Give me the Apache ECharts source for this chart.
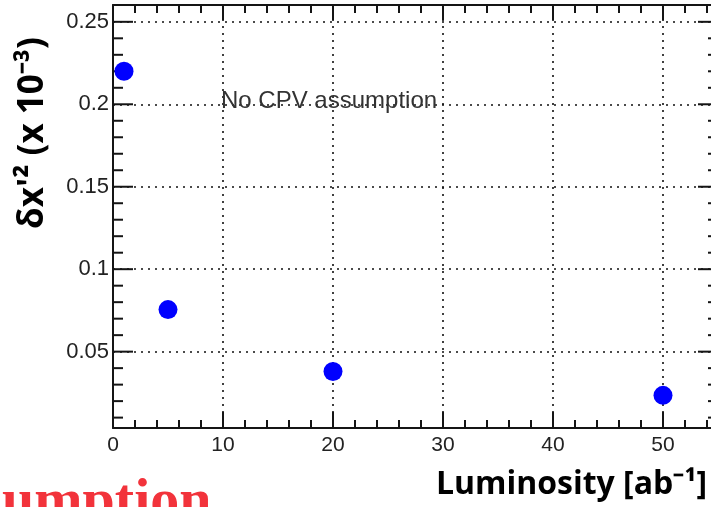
<!DOCTYPE html>
<html>
<head>
<meta charset="utf-8">
<script src="https://cdn.jsdelivr.net/npm/echarts@6/dist/echarts.min.js"></script>
<style>
html,body{margin:0;padding:0;background:#fff;}
#chart{width:711px;height:507px;}
</style>
</head>
<body>
<div id="chart"></div>
<script>
// ---- data ----
const luminosity = [1, 5, 20, 50];
const deltaX2 = [0.22, 0.0755, 0.038, 0.0235];
const xTickLabels = [0, 10, 20, 30, 40, 50];
const yTickLabels = [0.05, 0.1, 0.15, 0.2, 0.25];
const xMinorTicks = [2, 4, 6, 8, 12, 14, 16, 18, 22, 24, 26, 28, 32, 34, 36, 38, 42, 44, 46, 48, 52, 54];
const yMinorTicks = [0.01, 0.02, 0.03, 0.04, 0.06, 0.07, 0.08, 0.09, 0.11, 0.12, 0.13, 0.14,
                     0.16, 0.17, 0.18, 0.19, 0.21, 0.22, 0.23, 0.24];
const xRange = [0, 55];
const yRange = [0.0037, 0.2602];
const annotation = 'No CPV assumption';
const xTitle = 'Luminosity [ab\u207B\u00B9]';
const yTitle = "\u03B4x'\u00B2 (x 10\u207B\u00B3)";

const chart = echarts.init(document.getElementById('chart'));
const AX = '#151515';
const near = (v, arr) => arr.some(t => Math.abs(t - v) < 1e-6);

function xAx(pos, major) {
  return {
    type: 'value', position: pos, min: xRange[0], max: xRange[1], interval: major ? 10 : 2,
    axisLine: {show: major, onZero: false, lineStyle: {color: AX, width: 2}},
    axisTick: {show: false},
    axisLabel: {show: major && pos === 'bottom', margin: 7, fontSize: 21, color: '#222', fontFamily: 'Liberation Sans',
      formatter: v => near(v, xTickLabels) ? String(v) : ''},
    splitLine: {show: major && pos === 'bottom', lineStyle: {type: [2, 5], color: '#111', width: 1.6}}
  };
}
function yAx(pos, major) {
  const iv = major ? 0.05 : 0.01;
  const a = {
    type: 'value', position: pos, min: yRange[0], max: yRange[1], minInterval: iv, maxInterval: iv,
    axisLine: {show: major, onZero: false, lineStyle: {color: AX, width: 2}},
    axisTick: {show: false},
    axisLabel: {show: major && pos === 'left', margin: 4, fontSize: 22, color: '#222', fontFamily: 'Liberation Sans',
      formatter: v => near(v, yTickLabels) ? String(+v.toFixed(2)) : ''},
    splitLine: {show: major && pos === 'left', lineStyle: {type: [2, 5], color: '#111', width: 1.6}}
  };
  if (pos === 'left' && !major) {
    a.name = yTitle;
    a.nameLocation = 'middle';
    a.nameRotate = 90;
    a.nameGap = 62;
    a.nameTextStyle = {fontFamily: 'Open Sans', fontWeight: 'bold', fontSize: 35, color: '#000',
      lineHeight: 36, padding: [0, 0, 0, 167]};
  }
  return a;
}

// tick marks on all four sides (kind: 0 x-major, 1 x-minor, 2 y-major, 3 y-minor)
const tickData = [].concat(
  xTickLabels.map(v => [v, yRange[0], 0]),
  xMinorTicks.map(v => [v, yRange[0], 1]),
  yTickLabels.map(v => [xRange[0], v, 2]),
  yMinorTicks.map(v => [xRange[0], v, 3])
);

function renderTick(params, api) {
  const a = api.value(0), b = api.value(1), k = api.value(2);
  const st = {stroke: AX, lineWidth: 2};
  if (k < 2) {
    const p0 = api.coord([a, yRange[0]]), p1 = api.coord([a, yRange[1]]);
    const lb = k === 0 ? 16 : 8, lt = k === 0 ? 15 : 8;
    return {type: 'group', children: [
      {type: 'line', shape: {x1: p0[0], y1: p0[1], x2: p0[0], y2: p0[1] - lb}, style: st},
      {type: 'line', shape: {x1: p1[0], y1: p1[1], x2: p1[0], y2: p1[1] + lt}, style: st}
    ]};
  }
  const q0 = api.coord([xRange[0], b]), q1 = api.coord([xRange[1], b]);
  const l = k === 2 ? 20 : 10;
  return {type: 'group', children: [
    {type: 'line', shape: {x1: q0[0], y1: q0[1], x2: q0[0] + l, y2: q0[1]}, style: st},
    {type: 'line', shape: {x1: q1[0], y1: q1[1], x2: q1[0] - l, y2: q1[1]}, style: st}
  ]};
}

chart.setOption({
  animation: false,
  backgroundColor: '#fff',
  grid: {left: 113, top: 5, right: -7, bottom: 79, outerBoundsMode: 'none'},
  title: [{
    text: xTitle, right: 4, top: 466, padding: 0,
    textStyle: {fontFamily: 'Open Sans', fontWeight: 'bold', fontSize: 32, color: '#000', lineHeight: 38}
  }],
  xAxis: [xAx('bottom', true), xAx('bottom', false), xAx('top', true), xAx('top', false)],
  yAxis: [yAx('left', true), yAx('left', false), yAx('right', true), yAx('right', false)],
  series: [{
    type: 'custom', xAxisIndex: 0, yAxisIndex: 0, silent: true, z: 3, clip: false,
    dimensions: ['x', 'y', 'kind'], encode: {x: 0, y: 1},
    renderItem: renderTick, data: tickData
  }, {
    type: 'scatter', xAxisIndex: 0, yAxisIndex: 0, symbol: 'circle', symbolSize: 19,
    itemStyle: {color: '#0000ff', opacity: 1}, z: 5,
    data: luminosity.map((x, i) => [x, deltaX2[i]])
  }],
  graphic: [
    {type: 'text', x: 221, y: 89, z: 10,
     style: {text: annotation, font: '24px "Liberation Sans"', fill: '#333'}},
    {type: 'text', x: 2, y: 474, z: 10,
     style: {text: 'umption', font: 'bold 58px "Liberation Serif"', fill: '#f2333b'}}
  ]
});
</script>
</body>
</html>
